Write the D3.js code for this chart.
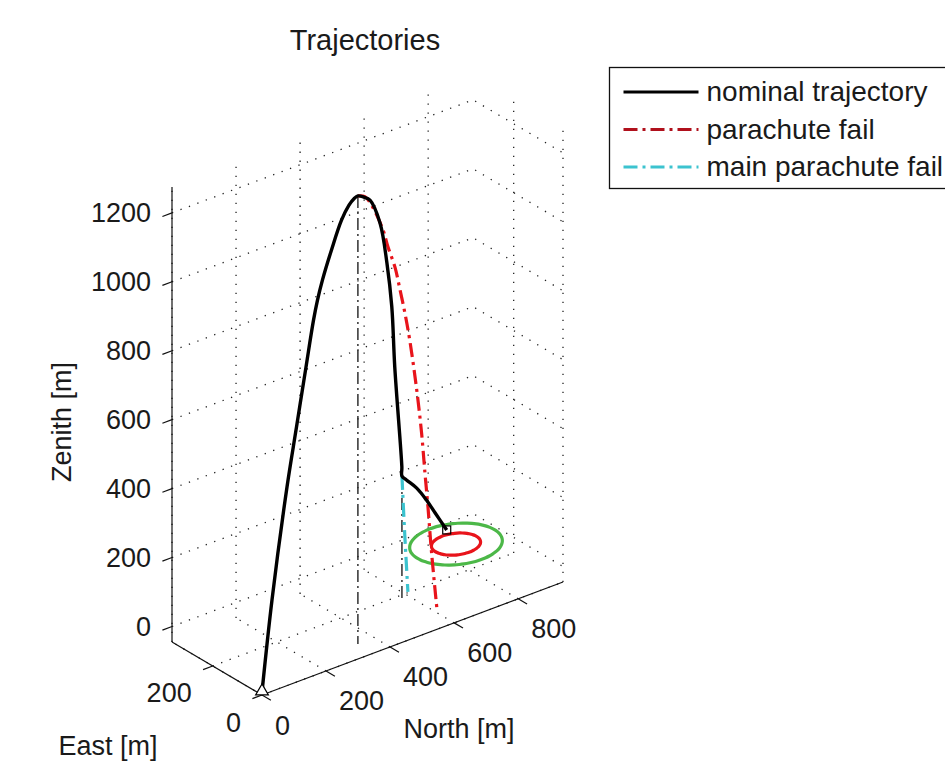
<!DOCTYPE html>
<html>
<head>
<meta charset="utf-8">
<script src="https://cdn.jsdelivr.net/npm/d3@7/dist/d3.min.js"></script>
<style>
  body { margin: 0; background: #fff; }
  text { font-family: "Liberation Sans", Arial, sans-serif; fill: #1a1a1a; }
</style>
</head>
<body>
<svg id="chart" width="945" height="770"></svg>
<script>
// axis limits [m]
var northLim = [0, 940], eastLim = [0, 365], upLim = [-45, 1275];

// nominal trajectory (ascent, drogue descent, main descent)
var nominalNorth = [0, 36.3, 90.7, 125.2, 159.7, 186.9, 201.4, 219.5, 252.2, 288.5, 315.7, 333.8, 348, 380, 412, 465, 501, 527, 544, 580, 581, 599, 638, 676, 709, 754];
var nominalEast  = [0, 6.6, 16.4, 22.7, 28.9, 33.8, 36.5, 39.7, 45.7, 52.2, 57.2, 60.4, 63, 80, 97, 125, 144, 158, 168, 186, 187, 192, 201, 211, 219, 230];
var nominalUp    = [-37, 215, 520, 679, 839, 963, 1015, 1066, 1139, 1210, 1242, 1253, 1255, 1233, 1206, 1109, 973, 831, 646, 336, 309, 289, 248, 196, 144, 74];

// parachute fail (ballistic from apogee)
var chuteFailNorth = [348, 371, 393, 431, 447, 470, 487, 503, 519, 542, 558, 569, 579, 591, 609];
var chuteFailEast  = [63, 64.6, 66, 68.7, 69.8, 71.4, 72.6, 73.7, 74.8, 76.4, 77.5, 78.2, 78.9, 79.8, 81];
var chuteFailUp    = [1255, 1244, 1211, 1125, 1070, 1003, 930, 857, 772, 619, 488, 369, 266, 128, -45];

// main parachute fail (drogue only from deploy point)
var mainFailNorth = [581, 596, 612];
var mainFailEast  = [187, 195, 203];
var mainFailUp    = [309, 130, -45];

// event drop lines: apogee, main deploy
var eventNorth = [348, 581];
var eventEast  = [63, 187];
var eventUp    = [1255, 309];

// landing dispersion ellipses (centre, semi-axes)
var ellipseCentre = [726, 156, 74];
var ellipseNorthRadius = [120, 64];
var ellipseEastRadius  = [105, 55];
var ellipseColors = ["#4cb848", "#e8141b"];

var seriesNames = ["nominal trajectory", "parachute fail", "main parachute fail"];

// ---- layout / projection ----
var svg = d3.select("#chart");
var origin = [262, 695];          // screen point of (north min, east min, up min)
var northVec = [301, -113], eastVec = [-90, -53], upLen = 455;

var sN = d3.scaleLinear().domain(northLim).range([0, 1]);
var sE = d3.scaleLinear().domain(eastLim).range([0, 1]);
var sZ = d3.scaleLinear().domain(upLim).range([0, 1]);

var proj = function(n, e, z) {
  var a = sN(n), b = sE(e), c = sZ(z);
  return [origin[0] + a * northVec[0] + b * eastVec[0],
          origin[1] + a * northVec[1] + b * eastVec[1] - c * upLen];
};
var seg = function(p, q) { return "M" + p[0] + "," + p[1] + "L" + q[0] + "," + q[1]; };

var nTicks = sN.ticks(5), eTicks = sE.ticks(2), zTicks = sZ.ticks(7);
var n0 = northLim[0], n1 = northLim[1], e0 = eastLim[0], e1 = eastLim[1], z0 = upLim[0], z1 = upLim[1];

// ---- grid (dotted) on floor and the two back walls ----
var grid = svg.append("g").attr("fill", "none").attr("stroke", "#222")
  .attr("stroke-width", 1.3).attr("stroke-dasharray", "1.3,7.7");
nTicks.forEach(function(n) {
  grid.append("path").attr("d", seg(proj(n, e0, z0), proj(n, e1, z0)));
  grid.append("path").attr("d", seg(proj(n, e1, z0), proj(n, e1, z1)));
});
eTicks.forEach(function(e) {
  grid.append("path").attr("d", seg(proj(n0, e, z0), proj(n1, e, z0)));
  grid.append("path").attr("d", seg(proj(n1, e, z0), proj(n1, e, z1)));
});
zTicks.forEach(function(z) {
  grid.append("path").attr("d", seg(proj(n0, e1, z), proj(n1, e1, z)) + seg(proj(n1, e1, z), proj(n1, e0, z)).replace("M", "L"));
});

// ---- axes ----
var axes = svg.append("g").attr("fill", "none").attr("stroke", "#111").attr("stroke-width", 1.2);
axes.append("path").attr("d", seg(proj(n0, e1, z0), proj(n0, e1, z1)));
axes.append("path").attr("d", seg(proj(n0, e1, z0), proj(n0, e0, z0)));
axes.append("path").attr("d", seg(proj(n0, e0, z0), proj(n1, e0, z0)));
var tickN = 30, tickE = 36;
zTicks.forEach(function(z) { axes.append("path").attr("d", seg(proj(n0, e1, z), proj(n0 - tickN, e1, z))); });
nTicks.forEach(function(n) { axes.append("path").attr("d", seg(proj(n, e0, z0), proj(n, e0 - tickE, z0))); });
eTicks.forEach(function(e) { axes.append("path").attr("d", seg(proj(n0, e, z0), proj(n0 - tickN, e, z0))); });

var labels = svg.append("g").style("font-size", "27px");
zTicks.forEach(function(z) {
  var p = proj(n0, e1, z);
  labels.append("text").attr("x", p[0] - 21).attr("y", p[1] + 9.5).attr("text-anchor", "end").text(z);
});
nTicks.forEach(function(n) {
  var p = proj(n, e0, z0);
  labels.append("text").attr("x", p[0] + 13).attr("y", p[1] + 39.5).text(n);
});
eTicks.forEach(function(e) {
  var p = proj(n0, e, z0);
  labels.append("text").attr("x", p[0] - 21).attr("y", p[1] + 36.5).attr("text-anchor", "end").text(e);
});
labels.append("text").attr("transform", "translate(71,422) rotate(-90)").attr("text-anchor", "middle").text("Zenith [m]");
labels.append("text").attr("x", 108).attr("y", 755).attr("text-anchor", "middle").text("East [m]");
labels.append("text").attr("x", 459).attr("y", 738).attr("text-anchor", "middle").text("North [m]");
svg.append("text").attr("x", 365).attr("y", 50).attr("text-anchor", "middle").style("font-size", "29px").text("Trajectories");

// ---- data ----
var line = d3.line().curve(d3.curveCatmullRom.alpha(0.5));
var pts = function(N, E, Z) { return d3.zip(N, E, Z).map(function(d) { return proj(d[0], d[1], d[2]); }); };

// drop lines
eventNorth.forEach(function(n, i) {
  svg.append("path").attr("d", seg(proj(n, eventEast[i], eventUp[i]), proj(n, eventEast[i], z0)))
    .attr("fill", "none").attr("stroke", "#222").attr("stroke-width", 1.4).attr("stroke-dasharray", "12,4,2,4");
});

// dispersion ellipses
var angles = d3.range(0, 361, 6);
ellipseNorthRadius.forEach(function(rn, i) {
  var ring = angles.map(function(a) {
    var t = a * Math.PI / 180;
    return proj(ellipseCentre[0] + rn * Math.cos(t), ellipseCentre[1] + ellipseEastRadius[i] * Math.sin(t), ellipseCentre[2]);
  });
  svg.append("path").attr("d", d3.line().curve(d3.curveCardinalClosed)(ring.slice(0, -1)))
    .attr("fill", "none").attr("stroke", ellipseColors[i]).attr("stroke-width", 3.2);
});

svg.append("path").attr("d", line(pts(mainFailNorth, mainFailEast, mainFailUp)))
  .attr("fill", "none").attr("stroke", "#3cc3cf").attr("stroke-width", 3.2).attr("stroke-dasharray", "14,5,3,5");
svg.append("path").attr("d", line(pts(chuteFailNorth, chuteFailEast, chuteFailUp)))
  .attr("fill", "none").attr("stroke", "#e8141b").attr("stroke-width", 3.2).attr("stroke-dasharray", "14,5,3,5");
svg.append("path").attr("d", line(pts(nominalNorth, nominalEast, nominalUp)))
  .attr("fill", "none").attr("stroke", "#000").attr("stroke-width", 3.4);

// launch and landing markers
var launch = proj(nominalNorth[0], nominalEast[0], nominalUp[0]);
svg.append("path").attr("d", d3.symbol(d3.symbolTriangle, 70)())
  .attr("transform", "translate(" + launch[0] + "," + (launch[1] - 1) + ")")
  .attr("fill", "#fff").attr("stroke", "#000").attr("stroke-width", 1.2);
var last = nominalNorth.length - 1;
var land = proj(nominalNorth[last], nominalEast[last], nominalUp[last]);
svg.append("rect").attr("x", land[0] - 4).attr("y", land[1] - 4).attr("width", 8).attr("height", 8)
  .attr("fill", "none").attr("stroke", "#000").attr("stroke-width", 1.2);

// ---- legend ----
var legend = svg.append("g").attr("transform", "translate(609.5,67.5)");
legend.append("rect").attr("width", 420).attr("height", 121).attr("fill", "#fff").attr("stroke", "#111").attr("stroke-width", 1.3);
var legendStroke = ["#000", "#b0101c", "#3cc3cf"], legendDash = [null, "14,5,3,5", "14,5,3,5"];
seriesNames.forEach(function(name, i) {
  var y = 24.5 + i * 37.5;
  legend.append("path").attr("d", "M14," + y + "H89").attr("stroke", legendStroke[i])
    .attr("stroke-width", 3).attr("stroke-dasharray", legendDash[i]);
  legend.append("text").attr("x", 97).attr("y", y + 9).style("font-size", "28px").text(name);
});
</script>
</body>
</html>
